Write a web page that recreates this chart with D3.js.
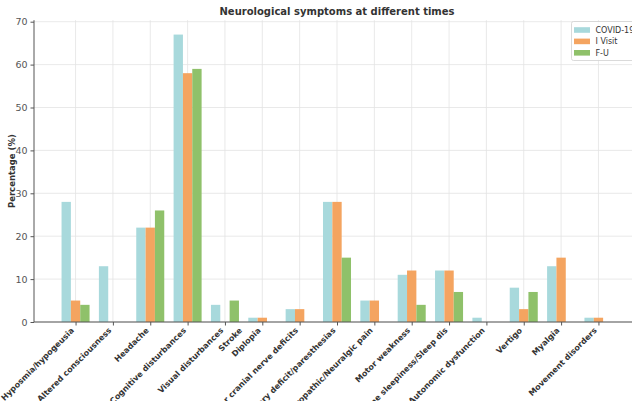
<!DOCTYPE html>
<html>
<head>
<meta charset="utf-8">
<script src="https://cdn.jsdelivr.net/npm/d3@7"></script>
<style>
  html, body { margin: 0; padding: 0; background: #fff; overflow: hidden; }
  svg { display: block; font-family: "DejaVu Sans", sans-serif; }
</style>
</head>
<body>
<svg id="chart" width="632" height="401"></svg>
<script>
// ---- data ----
const categories = [
  "Hyposmia/hypogeusia", "Altered consciousness", "Headache", "Cognitive disturbances",
  "Visual disturbances", "Diplopia", "Other cranial nerve deficits",
  "Sensory deficit/paresthesias", "Neuropathic/Neuralgic pain", "Motor weakness",
  "Daytime sleepiness/Sleep dis", "Autonomic dysfunction", "Vertigo", "Myalgia",
  "Movement disorders"
];
// extra label drawn between a category and the next one
const extraLabels = [{ after: "Visual disturbances", text: "Stroke" }];
const seriesNames = ["COVID-19", "I Visit", "F-U"];
const covid  = [28, 13, 22, 67, 4, 1, 3, 28, 5, 11, 12, 1, 8, 13, 1];
const iVisit = [5, 0, 22, 58, 0, 1, 3, 28, 5, 12, 12, 0, 3, 15, 1];
const fu     = [4, 0, 26, 59, 5, 0, 0, 15, 0, 4, 7, 0, 7, 0, 0];
const yTicks = [0, 10, 20, 30, 40, 50, 60, 70];
const colors = ["#a8d9dc", "#f4a460", "#8fc16a"];

(function () {
// ---- layout ----
const svg = d3.select("#chart");
const mLeft = 34, mRight = 640, mTop = 20.2, mBottom = 322;
const n = categories.length;
const barW = 0.25;
const xPad = (n - 1 + 3 * barW) * 0.05;
const x = d3.scaleLinear()
  .domain([-1.5 * barW - xPad, (n - 1) + 1.5 * barW + xPad])
  .range([mLeft, mRight]);
const yMax = d3.max([...covid, ...iVisit, ...fu]) * 1.05;
const y = d3.scaleLinear().domain([0, yMax]).range([mBottom, mTop]);

// grid
const g = svg.append("g");
g.selectAll("line.hg").data(yTicks).join("line")
  .attr("x1", mLeft).attr("x2", mRight)
  .attr("y1", d => y(d)).attr("y2", d => y(d))
  .attr("stroke", "#e3e3e3").attr("stroke-width", 0.8);
g.selectAll("line.vg").data(categories.map((c, i) => i)).join("line")
  .attr("x1", d => x(d)).attr("x2", d => x(d))
  .attr("y1", mTop).attr("y2", mBottom)
  .attr("stroke", "#e3e3e3").attr("stroke-width", 0.8);

// bars
const series = [covid, iVisit, fu];
series.forEach((vals, s) => {
  svg.append("g").selectAll("rect").data(vals).join("rect")
    .attr("x", (d, i) => x(i + (s - 1.5) * barW))
    .attr("width", x(barW) - x(0))
    .attr("y", d => y(d))
    .attr("height", d => y(0) - y(d))
    .attr("fill", colors[s]);
});

// y axis
const yAxis = d3.axisLeft(y).tickValues(yTicks).tickSize(3.5).tickPadding(3);
const ya = svg.append("g").attr("transform", `translate(${mLeft},0)`).call(yAxis);
ya.select(".domain").attr("stroke", "#555").attr("stroke-width", 1)
  .attr("d", `M0,${mBottom}V${mTop}`);
ya.selectAll(".tick line").attr("stroke", "#555");
ya.selectAll(".tick text").attr("fill", "#555").style("font-size", "9.5px")
  .style("font-family", "DejaVu Sans, sans-serif");

// x axis
const xAxis = d3.axisBottom(x).tickValues(categories.map((c, i) => i)).tickSize(3.5).tickFormat("");
const xa = svg.append("g").attr("transform", `translate(0,${mBottom})`).call(xAxis);
xa.select(".domain").attr("stroke", "#555").attr("stroke-width", 1).attr("d", `M${mLeft},0H${mRight}`);
xa.selectAll(".tick line").attr("stroke", "#555");

// x labels
const labelData = categories.map((c, i) => ({ text: c, pos: i }));
extraLabels.forEach(e => {
  const i = categories.indexOf(e.after);
  labelData.push({ text: e.text, pos: i + 0.5 });
});
svg.append("g").selectAll("text").data(labelData).join("text")
  .attr("transform", d => `translate(${x(d.pos) - 1},${mBottom + 9}) rotate(-45)`)
  .attr("text-anchor", "end")
  .style("font-size", "8px").style("font-weight", "bold")
  .attr("fill", "#333")
  .text(d => d.text);

// y label
svg.append("text")
  .attr("transform", `translate(15,${(mTop + mBottom) / 2}) rotate(-90)`)
  .attr("text-anchor", "middle")
  .style("font-size", "8.5px").style("font-weight", "bold").attr("fill", "#333")
  .text("Percentage (%)");

// title
svg.append("text")
  .attr("x", (mLeft + mRight) / 2).attr("y", 15)
  .attr("text-anchor", "middle")
  .style("font-size", "10px").style("font-weight", "bold").attr("fill", "#333")
  .text("Neurological symptoms at different times");

// legend
const lg = svg.append("g");
lg.append("rect").attr("x", 571.5).attr("y", 21.5).attr("width", 66).attr("height", 39)
  .attr("rx", 2).attr("fill", "#fff").attr("fill-opacity", 0.85)
  .attr("stroke", "#d0d0d0").attr("stroke-width", 0.8);
seriesNames.forEach((name, i) => {
  const cy = 30 + i * 11.4;
  lg.append("rect").attr("x", 574).attr("y", cy - 2.8).attr("width", 16).attr("height", 5.6)
    .attr("fill", colors[i]);
  lg.append("text").attr("x", 595.5).attr("y", cy + 3)
    .style("font-size", "8px").attr("fill", "#333").text(name);
});
})();
</script>
</body>
</html>
